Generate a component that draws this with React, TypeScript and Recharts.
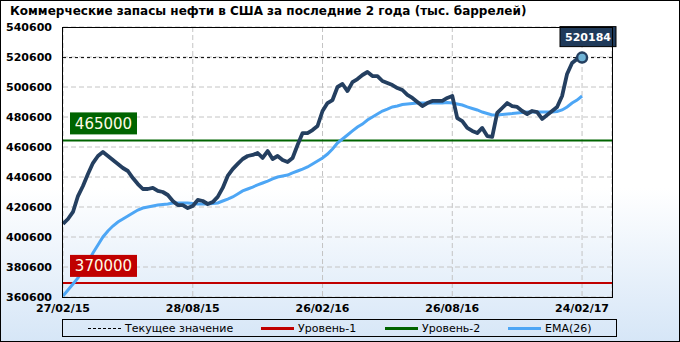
import { ComposedChart, Line, XAxis, YAxis, CartesianGrid, ReferenceLine } from 'recharts'

// weekly commercial crude stocks, thousand barrels, 27/02/15 .. 24/02/17
const STOCKS = [
  409300, 412600, 417300, 427900, 434600, 442600, 449900, 454600, 457300, 454600,
  451900, 449300, 446600, 444600, 439900, 435900, 432600, 432600, 433300, 431300,
  430600, 428600, 424600, 421900, 421900, 419900, 421300, 425300, 424600, 422600,
  423900, 427300, 433300, 441300, 445900, 449300, 452600, 454600, 455300, 456600,
  453300, 457900, 452600, 454600, 451900, 450600, 453300, 461900, 469900, 469900,
  471900, 474600, 484600, 489900, 491900, 500600, 502600, 497900, 503900, 505900,
  508600, 510600, 507900, 507900, 504600, 503300, 501900, 499900, 498600, 495300,
  493300, 490600, 487900, 489900, 491300, 491300, 491300, 493300, 494600, 479900,
  477900, 473300, 471300, 469900, 473300, 467900, 467300, 483300, 486600, 489900,
  487900, 487300, 484600, 482600, 484600, 483900, 479300, 481900, 484600, 487300,
  494600, 509300, 516600, 519300, 520184,
]

const EMA26 = [
  361300, 365300, 369300, 373300, 378600, 383900, 389900, 395300, 400600, 404600,
  407900, 410600, 412600, 414600, 416600, 418600, 419900, 420600, 421300, 421900,
  422300, 422600, 423300, 423300, 423300, 423300, 422900, 422600, 422600, 422600,
  422900, 423300, 424600, 425900, 427300, 429300, 431300, 432600, 433900, 435300,
  436600, 437900, 439300, 440600, 441300, 441900, 443300, 444600, 445900, 447300,
  449300, 451300, 453300, 455900, 459300, 463300, 465900, 468600, 471300, 473900,
  475900, 478600, 480600, 482600, 484600, 485900, 487300, 487900, 488900, 489300,
  489600, 489900, 489900, 489900, 489900, 489900, 489900, 490300, 489900, 489300,
  488600, 487300, 486300, 485300, 483900, 482900, 481900, 481900, 482300, 482600,
  482900, 483300, 483600, 483900, 483900, 483900, 483900, 483900, 483900, 484300,
  485300, 487300, 489900, 491900, 494600,
]

const X_TICKS = [0, 26, 52, 78, 104]
const X_LABELS = ['27/02/15', '28/08/15', '26/02/16', '26/08/16', '24/02/17']
const Y_TICKS = [360600, 380600, 400600, 420600, 440600, 460600, 480600, 500600, 520600, 540600]

const LEVEL_1 = 370000
const LEVEL_2 = 465000
const CURRENT = STOCKS[STOCKS.length - 1]

const data = STOCKS.map((v, i) => ({ i, stock: v, ema: EMA26[i] }))

const FONT = '"DejaVu Sans", Verdana, sans-serif'
const NAVY = '#243f60'
const EMA_BLUE = '#4da6f5'
const GREEN = '#006400'
const RED = '#c00000'

const tickStyle = { fontFamily: FONT, fontSize: 11, fontWeight: 'bold', fill: '#000' }

function levelLabel(text: string, bg: string) {
  return (props: any) => {
    const vb = props.viewBox
    return (
      <g>
        <rect x={vb.x + 7} y={vb.y - 28} width={67} height={22} fill={bg} />
        <text x={vb.x + 40.5} y={vb.y - 11.5} textAnchor="middle" fill="#fffbe6"
          style={{ fontFamily: FONT, fontSize: 15 }}>{text}</text>
      </g>
    )
  }
}

function currentLabel(props: any) {
  const vb = props.viewBox
  const x = vb.x + vb.width - 52
  return (
    <g>
      <rect x={x} y={vb.y - 31} width={56} height={20} fill="#1f3a5a" stroke="#000" strokeWidth={1} />
      <text x={x + 28} y={vb.y - 17} textAnchor="middle" fill="#fff"
        style={{ fontFamily: FONT, fontSize: 11, fontWeight: 'bold' }}>{CURRENT}</text>
    </g>
  )
}

function LastDot(props: any) {
  const { cx, cy, index } = props
  if (index !== STOCKS.length - 1) return <g key={index} />
  return <circle key={index} cx={cx} cy={cy} r={5} fill="#6fb3d6" stroke={NAVY} strokeWidth={2.5} />
}

const legendItems = [
  { name: 'Текущее значение', color: '#000', dash: true, x: 88 },
  { name: 'Уровень-1', color: RED, dash: false, x: 261 },
  { name: 'Уровень-2', color: GREEN, dash: false, x: 385 },
  { name: 'EMA(26)', color: EMA_BLUE, dash: false, x: 508 },
]

export default function App() {
  return (
    <div style={{
      position: 'absolute', left: 0, top: 0, width: 680, height: 342, overflow: 'hidden',
      background: 'linear-gradient(to bottom, #ffffff 0%, #ffffff 55%, #d6e6f7 100%)',
    }}>
      <div style={{
        position: 'absolute', left: 10, top: 4, fontFamily: FONT, fontSize: 12,
        fontWeight: 'bold', color: '#000', whiteSpace: 'nowrap',
      }}>
        Коммерческие запасы нефти в США за последние 2 года (тыс. баррелей)
      </div>

      <ComposedChart width={680} height={342} data={data}
        margin={{ top: 27, right: 0, bottom: 25, left: 0 }}
        style={{ position: 'absolute', left: 0, top: 0 }}>
        <CartesianGrid yAxisId="l" stroke="#c4c4c4" strokeDasharray="5 3" />
        <XAxis dataKey="i" type="number" domain={[0, 110]} ticks={X_TICKS} height={20}
          tickFormatter={(v) => X_LABELS[X_TICKS.indexOf(v)]} axisLine={false} tickLine={false}
          tickSize={0} tickMargin={7} tick={tickStyle} interval={0} />
        <YAxis yAxisId="l" orientation="left" width={63} domain={[360600, 540600]} ticks={Y_TICKS}
          axisLine={false} tickLine={false} tickSize={0} tickMargin={11} tick={tickStyle} interval={0} />
        <YAxis yAxisId="r" orientation="right" width={68} domain={[360600, 540600]} ticks={Y_TICKS}
          axisLine={false} tickLine={false} tickSize={0} tickMargin={13} tick={{ ...tickStyle, textAnchor: 'start' }} interval={0} />
        <ReferenceLine yAxisId="l" y={LEVEL_1} stroke={RED} strokeWidth={2} />
        <ReferenceLine yAxisId="l" y={LEVEL_2} stroke={GREEN} strokeWidth={2} />
        <ReferenceLine yAxisId="l" y={CURRENT} stroke="#000" strokeWidth={1} strokeDasharray="3 3" />
        <Line yAxisId="l" dataKey="ema" stroke={EMA_BLUE} strokeWidth={3} dot={false} isAnimationActive={false} />
        <Line yAxisId="l" dataKey="stock" stroke={NAVY} strokeWidth={3.8} dot={LastDot} activeDot={false}
          strokeLinejoin="round" isAnimationActive={false} />
        {/* value boxes drawn above the series */}
        <ReferenceLine yAxisId="l" y={LEVEL_1} stroke="none" label={{ content: levelLabel(String(LEVEL_1), RED) }} />
        <ReferenceLine yAxisId="l" y={LEVEL_2} stroke="none" label={{ content: levelLabel(String(LEVEL_2), GREEN) }} />
        <ReferenceLine yAxisId="l" y={CURRENT} stroke="none" label={{ content: currentLabel }} />
      </ComposedChart>

      {/* plot frame */}
      <div style={{ position: 'absolute', left: 62, top: 27, width: 549, height: 269, border: '1px solid #000', pointerEvents: 'none' }} />

      {/* legend */}
      <div style={{ position: 'absolute', left: 62, top: 319, width: 555, height: 18, border: '1px solid #000', boxSizing: 'border-box' }} />
      {legendItems.map((it) => (
        <div key={it.name} style={{ position: 'absolute', left: it.x, top: 320, height: 16, display: 'flex', alignItems: 'center', gap: 4 }}>
          <span style={{
            width: 33, height: 0,
            borderTop: it.dash ? `1px dashed ${it.color}` : `3px solid ${it.color}`,
          }} />
          <span style={{ fontFamily: FONT, fontSize: 11, color: '#000', whiteSpace: 'nowrap' }}>{it.name}</span>
        </div>
      ))}

      {/* outer frame */}
      <div style={{ position: 'absolute', left: 0, top: 0, width: 678, height: 340, border: '1px solid #000', pointerEvents: 'none' }} />
    </div>
  )
}
